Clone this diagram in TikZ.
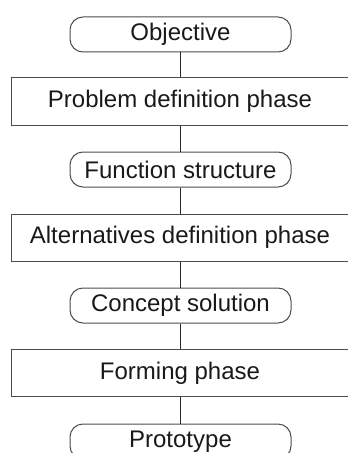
\documentclass[tikz,border=0pt]{standalone}
\usepackage{fontspec}
\setmainfont{Liberation Sans}
\begin{document}
\begin{tikzpicture}[x=0.75pt,y=-0.75pt,
  every node/.style={font=\fontsize{18}{21}\selectfont, text=black!90, inner sep=0pt},
  phasebox/.style={draw=black!70, line width=0.75pt, minimum width=338*0.75pt, minimum height=47*0.75pt},
  resultcap/.style={draw=black!70, line width=0.75pt, rounded corners=13*0.75pt, minimum width=221*0.75pt, minimum height=35*0.75pt},
  link/.style={draw=black!85, line width=0.75pt}]
  \useasboundingbox (0,0) rectangle (347,453);
  % results (rounded) and phases (boxes), top to bottom
  \node[resultcap] (obj)  at (180.5,34.5)  {Objective};
  \node[phasebox]  (p1)   at (180,101.5)   {Problem definition phase};
  \node[resultcap] (fs)   at (180.5,169.5) {Function structure};
  \node[phasebox]  (p2)   at (180,237.5)   {Alternatives definition phase};
  \node[resultcap] (cs)   at (180.5,305.5) {Concept solution};
  \node[phasebox]  (p3)   at (180,373)     {Forming phase};
  \node[resultcap] (pt)   at (180.5,441.5) {Prototype};
  % connectors
  \path[link] (obj.south) -- (obj.south |- p1.north);
  \path[link] (p1.south) -- (p1.south |- fs.north);
  \path[link] (fs.south) -- (fs.south |- p2.north);
  \path[link] (p2.south) -- (p2.south |- cs.north);
  \path[link] (cs.south) -- (cs.south |- p3.north);
  \path[link] (p3.south) -- (p3.south |- pt.north);
\end{tikzpicture}
\end{document}
